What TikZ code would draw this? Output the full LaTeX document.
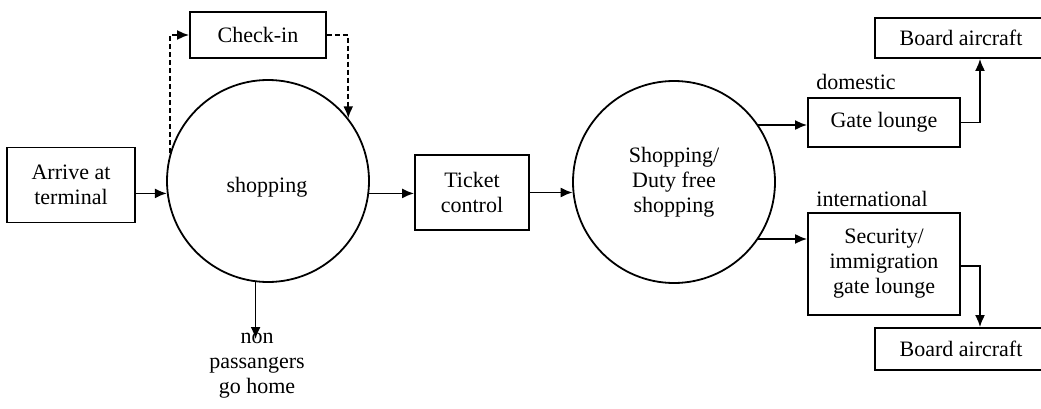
\documentclass[tikz,border=0pt]{standalone}
\usepackage{fontspec}
\setmainfont{Liberation Serif}
\usetikzlibrary{arrows.meta}
\begin{document}
\begin{tikzpicture}[x=1pt,y=-1pt,
  every node/.style={font=\fontsize{22}{25}\selectfont, align=center, inner sep=0pt},
  box/.style={draw, line width=1.8pt},
  round/.style={draw, circle, line width=1.8pt, minimum size=202pt},
  lbl/.style={},
  arr/.style={line width=1.8pt, -{Latex[length=12pt,width=10pt]}},
  darr/.style={arr, dash pattern=on 5pt off 3pt}]
\useasboundingbox (0,0) rectangle (1041,409);
\node[box, minimum width=128pt, minimum height=75pt] (arrive) at (71,185) {Arrive at\\terminal};
\node[box, minimum width=136pt, minimum height=46pt] (checkin) at (258,35) {Check-in};
\node[round] (shop1) at (268,181) {};
\node[lbl] (shop1text) at (267,187) {shopping};
\node[box, minimum width=114pt, minimum height=75pt] (ticket) at (472,192.5) {Ticket\\control};
\node[round] (shop2) at (674,182) {Shopping/\\Duty free\\shopping};
\node[box, minimum width=152pt, minimum height=49pt] (gate) at (884,122.5) {Gate lounge};
\node[box, minimum width=172pt, minimum height=40pt] (board1) at (961,38) {Board aircraft};
\node[box, minimum width=152pt, minimum height=102pt] (security) at (884,264) {Security/\\immigration\\gate lounge};
\node[box, minimum width=172pt, minimum height=42pt] (board2) at (961,349) {Board aircraft};
\node[lbl] (dom) at (856,82) {domestic};
\node[lbl] (intl) at (872,199) {international};
\node[lbl, anchor=north] (nonpass) at (257,333) {non\\passangers\\go home};
\draw[arr] (arrive.east |- shop1.187) -- (shop1.187);
\draw[arr] (shop1.-7) -- (ticket.west |- shop1.-7);
\draw[arr] (ticket.east) -- (ticket.east -| shop2.186);
\draw[arr] (shop2.34) -- (shop2.34 -| gate.west);
\draw[arr] (shop2.-34) -- (shop2.-34 -| security.west);
\draw[arr] (gate.east) -| ([xshift=19pt]board1.south);
\draw[arr] ([yshift=-2pt]security.east) -| ([xshift=19pt]board2.north);
\draw[darr] (shop1.164) |- (checkin.west);
\draw[darr] (checkin.east) -| (shop1.38);
\draw[arr] (shop1.-97) -- ([yshift=-6pt]shop1.-97 |- nonpass.north);
\end{tikzpicture}
\end{document}
